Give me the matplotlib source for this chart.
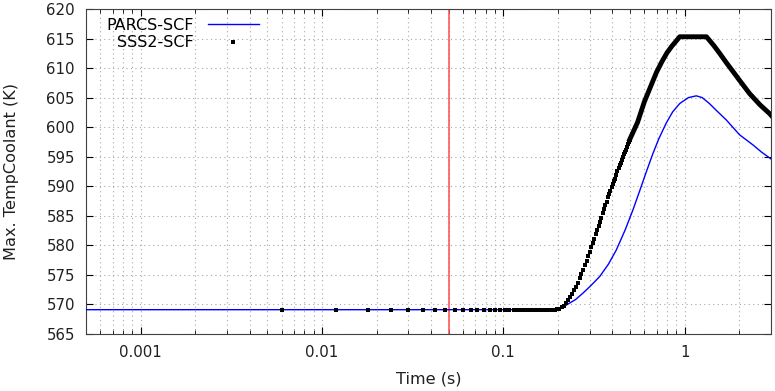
import numpy as np
import matplotlib.pyplot as plt
from matplotlib.lines import Line2D

# PARCS-SCF curve
parcs_t = [0.0005, 0.19, 0.20, 0.223, 0.25, 0.275, 0.30, 0.34, 0.38, 0.42, 0.47,
           0.519, 0.565, 0.616, 0.668, 0.72, 0.792, 0.86, 0.94, 1.05, 1.16, 1.25,
           1.37, 1.5, 1.70, 2.01, 2.38, 2.65, 3.0]
parcs_T = [569.1, 569.1, 569.2, 569.9, 570.8, 571.9, 573.0, 574.7, 576.8, 579.2, 582.6,
           586.0, 589.2, 592.5, 595.5, 598.0, 600.7, 602.6, 604.0, 605.0, 605.3, 605.0,
           604.0, 602.8, 601.2, 598.7, 597.0, 595.8, 594.6]

# SSS2-SCF dots, 6 ms output step, visible one by one up to ~0.5 s
sss2_t = [0.006, 0.012, 0.018, 0.024, 0.030, 0.036, 0.042, 0.048, 0.054, 0.060,
          0.066, 0.072, 0.078, 0.084, 0.090, 0.096, 0.102, 0.108, 0.114, 0.120,
          0.126, 0.132, 0.138, 0.144, 0.150, 0.156, 0.162, 0.168, 0.174, 0.180,
          0.186, 0.192, 0.198, 0.204, 0.210, 0.216, 0.222, 0.228, 0.234, 0.240,
          0.246, 0.252, 0.258, 0.264, 0.270, 0.276, 0.282, 0.288, 0.294, 0.300,
          0.306, 0.312, 0.318, 0.324, 0.330, 0.336, 0.342, 0.348, 0.354, 0.360,
          0.366, 0.372, 0.378, 0.384, 0.390, 0.396, 0.402, 0.408, 0.414, 0.420,
          0.426, 0.432, 0.438, 0.444, 0.450, 0.456, 0.462, 0.468, 0.474, 0.480,
          0.486, 0.492, 0.498]
sss2_T = [569.1, 569.1, 569.1, 569.1, 569.1, 569.1, 569.1, 569.1, 569.1, 569.1,
          569.1, 569.1, 569.1, 569.1, 569.1, 569.1, 569.1, 569.1, 569.1, 569.1,
          569.1, 569.1, 569.1, 569.1, 569.1, 569.1, 569.1, 569.1, 569.1, 569.1,
          569.1, 569.1, 569.2, 569.3, 569.5, 569.8, 570.2, 570.7, 571.2, 571.8,
          572.4, 573.0, 573.7, 574.4, 575.1, 575.8, 576.6, 577.4, 578.2, 578.9,
          579.7, 580.4, 581.1, 581.9, 582.6, 583.3, 584.0, 584.7, 585.4, 586.1,
          586.8, 587.4, 588.1, 588.7, 589.2, 589.8, 590.3, 590.8, 591.3, 591.9,
          592.5, 593.0, 593.6, 594.0, 594.5, 594.9, 595.4, 595.8, 596.2, 596.7,
          597.1, 597.5, 597.9]

# dense part of SSS2-SCF where the dots merge into a thick band
sss2_dense_t = [0.498, 0.55, 0.60, 0.65, 0.70, 0.75, 0.80, 0.85, 0.90, 0.94, 1.0,
                1.1, 1.2, 1.32, 1.45, 1.56, 1.7, 1.85, 2.0, 2.28, 2.6, 2.94, 3.0]
sss2_dense_T = [597.9, 600.8, 604.3, 606.9, 609.3, 611.1, 612.6, 613.7, 614.6, 615.3, 615.3,
                615.3, 615.3, 615.3, 613.8, 612.5, 610.9, 609.4, 608.0, 605.7, 603.8, 602.3, 602.0]

event_time = 0.05

fig = plt.figure(figsize=(7.75, 3.91), dpi=100)
ax = fig.add_axes([0.111, 0.146, 0.884, 0.831])

ax.axvline(event_time, color='#ff4b4b', lw=1.1, zorder=2)
ax.plot(parcs_t, parcs_T, color='#0000ff', lw=1.0, zorder=3)
ax.plot(sss2_dense_t, sss2_dense_T, color='black', lw=3.5, zorder=4)
ax.plot(sss2_t, sss2_T, 's', color='black', ms=2.3, mew=0, zorder=4)

ax.set_xscale('log')
ax.set_xlim(0.0005, 3.0)
ax.set_ylim(565, 620)
ax.set_yticks(np.arange(565, 621, 5))
ax.set_xticks([0.001, 0.01, 0.1, 1])
ax.set_xticklabels(['0.001', '0.01', '0.1', '1'])

ax.grid(True, which='major', ls=(0, (1, 3)), color='#a8a8a8', lw=0.8)
ax.grid(True, which='minor', axis='x', ls=(0, (1, 3)), color='#a8a8a8', lw=0.8)
ax.tick_params(which='both', direction='in', top=True, right=True, labelsize=10.8,
               labelcolor='#202020')
ax.tick_params(which='major', length=5, pad=8)
ax.tick_params(which='minor', length=3)
for s in ax.spines.values():
    s.set_color('#404040')

ax.set_xlabel('Time (s)', fontsize=11.6, labelpad=8, color='#202020')
ax.set_ylabel('Max. TempCoolant (K)', fontsize=11.6, labelpad=20, color='#202020')

handles = [Line2D([], [], color='#0000ff', lw=1.0),
           Line2D([], [], ls='none', marker='s', color='black', ms=2.3, mew=0)]
ax.legend(handles, ['PARCS-SCF', 'SSS2-SCF'], loc='upper left',
          bbox_to_anchor=(0.017, 1.0), frameon=False, markerfirst=False,
          handlelength=3.2, handletextpad=0.85, fontsize=11.5, labelspacing=0.15,
          borderaxespad=0.15)

fig.savefig('out.png', dpi=100)
